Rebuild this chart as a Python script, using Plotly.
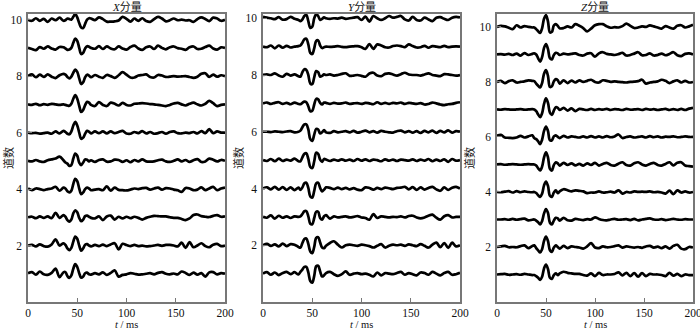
import plotly.graph_objects as go

# Time grid (ms): 4 ms steps, 2 ms steps across the main wavelet
T_GRID = ([0, 4, 8, 12, 16, 20, 24, 28, 32, 36]
          + [38, 40, 42, 44, 46, 48, 50, 52, 54, 56, 58, 60, 62, 64]
          + [68, 72, 76, 80, 84, 88, 92, 96, 100, 104,
             108, 112, 116, 120, 124, 128, 132, 136, 140,
             144, 148, 152, 156, 160, 164, 168, 172, 176,
             180, 184, 188, 192, 196, 200])

TRACE_NUMBERS = [1, 2, 3, 4, 5, 6, 7, 8, 9, 10]

# Trace amplitudes in hundredths of a trace spacing (trace 1 ... trace 10)
X_TRACES = [
    [2,6,-3,8,-2,-4,3,18,-12,5, 6,-8,-15,-6,18,34,24,2,-14,-10,2,4,-2,-3,
     2,-2,5,-4,3,12,-10,-4,-2,2, 0,-3,-2,0,2,-2,3,6,0, -2,1,-2,8,3,-4,4,-3,2, -10,5,6,-2,2,0],
    [0,2,-3,4,-2,-4,4,22,0,8, 2,-10,-16,-8,14,32,24,0,-18,-10,3,5,0,-3,
     2,-2,3,-2,4,8,-14,6,2,-2, 2,-2,0,-3,-2,0,2,-1,2, 2,0,-3,10,-8,12,-6,0,8, -2,-6,3,6,-2,0],
    [0,2,-3,3,-2,3,-3,16,-2,8, 2,-10,-15,-8,14,25,18,-2,-14,-8,4,6,2,-2,
     -4,3,-10,3,6,-8,2,-4,2,-3, 2,-2,-8,-2,2,5,4,3,3, 0,-2,-2,-6,-10,-4,8,10,4, 2,1,5,8,2,3],
    [2,-4,2,0,-4,0,2,8,-6,5, 2,-8,-12,-6,18,36,28,2,-18,-12,0,5,2,-4,
     -2,0,-4,10,-6,5,-3,-4,-5,-2, 2,0,3,4,-2,2,5,-2,3, 2,-2,-4,-10,4,2,-4,-2,6, -4,2,8,-4,2,5],
    [0,-2,3,-2,-4,2,5,8,15,2, -6,-10,-18,-15,8,26,18,-6,-15,-6,5,4,-2,2,
     -4,3,5,-3,-2,4,3,-4,2,-5, 3,-2,5,-2,-3,-2,2,4,-2, -4,0,5,-2,3,-4,2,6,-4, -2,8,4,-2,3,0],
    [0,-2,-1,-4,-2,0,-4,4,-3,6, 2,-4,-6,4,25,38,25,0,-22,-18,-4,6,3,-3,
     4,-2,4,-3,4,-2,2,6,-3,-4, 2,-2,5,-3,2,-4,-2,2,-4, 2,4,-2,-3,0,-2,2,-3,5, -2,12,-2,4,0,0],
    [0,-2,2,-3,1,-2,2,0,-2,0, -2,-4,-5,2,20,33,20,-5,-27,-20,-3,9,6,-2,
     -6,8,-2,-6,6,2,-4,5,-2,-4, 2,3,4,3,1,0,-2,-4,-6, -2,3,5,0,-4,2,6,0,-4, 2,12,4,-6,-2,0],
    [0,6,-4,5,-3,6,-2,-7,3,8, 5,-3,-8,-2,12,23,15,-8,-28,-22,-4,5,2,-4,
     4,-2,-6,4,0,-6,3,14,5,-5, -5,2,4,6,-3,-5,4,2,-3, -2,0,-2,-1,0,-3,-6,-2,8, 10,-3,5,-2,3,0],
    [0,-4,-8,3,-3,5,-2,-6,3,2, -2,-7,-6,0,18,33,25,0,-22,-18,-2,6,4,0,
     -3,6,-4,5,-2,-5,5,-2,-6,3, 8,-2,-7,2,5,-4,8,0,-5, 2,5,-1,-3,-7,2,5,-4,-3, 3,8,-2,-6,2,0],
    [0,-4,5,-4,3,-8,4,-2,7,-4, -2,4,2,0,10,20,8,-12,-28,-30,-15,0,5,4,
     -2,8,2,-7,-7,-6,-3,10,3,-7, 4,-4,5,-5,-8,2,10,4,-6, -2,4,-2,0,-3,-2,-8,2,8, 2,-5,7,4,-4,0],
]

Y_TRACES = [
    [0,5,-4,4,-5,2,6,-2,5,-3, 6,14,24,24,4,-26,-32,-8,26,28,8,-10,-6,2,
     6,-2,-8,-2,8,-4,0,2,-2,0, -4,-10,4,-6,2,0,-2,2,6, -4,2,-2,-6,4,2,-4,6,0, -6,2,6,-4,-2,3],
    [0,5,-2,3,-4,6,-3,4,2,-6, -8,8,22,24,5,-22,-28,-6,26,28,10,-8,-10,-2,
     8,14,2,-8,0,2,0,-2,2,0, -3,-8,-2,4,-8,-2,2,0,2, -2,3,0,-3,4,-2,-8,2,9, -7,8,-9,9,-4,0],
    [0,-3,5,-6,4,-3,2,-4,2,0, 2,10,20,20,2,-24,-26,-4,18,18,-4,-10,2,6,
     -6,2,-2,0,2,-2,0,3,-2,-4, -10,10,-4,2,0,-2,0,-1,2, -2,3,4,-2,-5,-2,4,8,-3, -10,2,6,-2,0,0],
    [0,4,-3,6,-4,5,-5,4,-6,3, -5,4,18,20,2,-28,-32,-8,18,20,2,-10,-4,4,
     2,-2,3,-2,2,-3,1,-4,-6,4, 2,-4,2,-2,3,1,-2,2,3, 6,-3,5,-5,4,-4,2,6,-3, -8,4,-5,3,6,0],
    [0,-3,4,-4,5,-3,2,-2,5,-4, -4,10,22,24,4,-24,-28,-4,26,22,2,-6,4,2,
     -3,2,-2,3,-2,2,-3,4,-2,3, -3,2,0,-4,3,-2,2,-3,2, 0,-2,3,-3,2,-2,4,-4,2, -3,3,-6,4,-2,0],
    [0,0,-1,1,0,-1,1,2,-2,0, 4,16,26,26,8,-26,-32,-10,10,8,-6,-2,6,-2,
     -4,2,-2,0,2,-2,3,-3,0,4, -2,2,-3,3,0,-2,-3,2,4, -2,2,-3,2,-4,3,-2,4,-4, 3,-2,5,-3,2,0],
    [0,3,-2,2,4,-2,2,-3,3,-2, -3,2,6,4,-10,-28,-26,-4,16,14,2,-4,3,2,
     -2,2,-1,0,3,-2,0,1,-2,2, 0,-3,4,-2,2,-2,2,0,3, -2,2,0,-2,1,-4,-2,3,0, -4,-6,-3,-2,2,4],
    [0,2,0,6,-2,-6,4,-2,2,-4, -6,10,20,18,0,-30,-32,-8,14,10,-6,-3,2,0,
     2,-2,0,4,6,-3,-2,0,-3,-6, 5,8,-2,-4,4,6,2,-2,3, 8,2,0,0,-2,2,6,0,-2, -4,3,2,0,-2,0],
    [0,-2,4,-6,4,-4,3,-3,0,2, 4,14,26,28,8,-22,-26,-6,20,22,4,-5,-2,0,
     -1,0,2,-1,-2,0,1,2,-2,-8, 9,-8,8,4,-2,-3,2,4,2, -2,8,2,-3,-2,3,-4,2,0, -2,3,-2,0,1,0],
    [5,2,0,-3,4,-5,-3,5,-2,-6, -10,-4,8,12,-10,-34,-30,0,14,8,-6,-2,3,0,
     -2,0,-1,2,-2,0,2,4,-6,6, -12,8,0,-6,0,8,2,5,8, -4,-8,5,-6,-8,2,-4,-10,2, 4,-2,-6,2,5,3],
]

Z_TRACES = [
    [0,1,2,-1,0,1,-1,2,0,-2, -2,-6,-12,-20,-8,22,36,20,-12,-16,-2,4,-2,4,
     10,6,4,2,2,-2,-4,4,-6,6, -2,0,0,2,8,-3,6,-6,5, -8,5,-6,2,0,0,-2,-6,6, -4,2,-6,0,-2,-2],
    [0,2,4,-1,0,-1,3,6,-4,4, 6,-4,-12,-20,-8,22,38,22,-12,-18,-2,6,0,-6,
     4,-4,2,0,-2,-6,2,14,-2,-4, 2,-1,0,3,6,-2,2,0,-2, 0,-3,2,4,-2,1,-4,2,-6, 4,8,-6,-8,0,-2],
    [0,0,1,-1,2,-1,1,3,-3,-1, 0,-4,-10,-18,-6,22,38,24,-12,-18,-4,6,4,-4,
     6,-3,-4,2,0,-2,1,0,8,2, -2,-3,0,2,-1,0,1,-2,2, -3,0,2,4,0,-1,1,-2,0, 2,0,-1,1,0,0],
    [0,-1,1,3,-2,3,-1,2,0,-1, 0,-4,-12,-18,-6,24,38,22,-14,-18,-2,6,-4,2,
     10,6,2,6,4,2,-4,-2,-2,2, -2,-1,1,-2,6,-6,0,-2,2, 0,1,0,2,-1,0,-2,-6,5, -8,6,-2,2,-2,0],
    [0,1,-1,0,1,0,-1,0,1,0, 0,-4,-14,-22,-8,26,44,26,-16,-22,-2,8,4,-4,
     6,-2,4,-3,2,-4,4,-2,6,-4, 2,6,-2,-4,3,8,-2,-4,4, 8,0,-4,2,6,-2,-4,2,8, -3,6,8,-4,-6,-8],
    [4,8,-2,-3,-4,-2,4,-2,2,6, -4,-8,-16,-26,-10,22,38,22,-12,-12,2,6,0,-4,
     4,-2,2,0,-2,2,-2,3,-2,2, -2,3,-1,2,9,-4,0,2,-2, 0,2,-2,3,-1,2,-2,1,0, 2,-1,0,2,0,0],
    [0,-1,1,0,-1,0,1,-1,0,1, 0,-6,-18,-28,-14,20,40,24,-12,-20,-4,8,6,-2,
     6,-4,4,-6,2,0,-2,2,-2,1, -1,2,-2,1,0,-2,2,-1,0, 1,-2,2,-1,1,-2,0,2,-2, 1,-2,2,-2,3,6],
    [0,4,-4,3,6,-2,0,2,6,4, 3,-6,-14,-20,-4,30,43,22,-18,-16,2,10,6,-6,
     6,-4,5,-2,6,0,4,8,0,-2, 6,4,0,2,0,-1,-2,0,1, 3,8,-6,-2,0,2,8,4,-4, 2,6,-2,4,-2,0],
    [0,1,-1,2,-2,3,-4,5,-2,2, 4,0,-14,-26,-10,24,38,20,-14,-18,-2,6,4,-2,
     3,0,2,4,-2,-4,3,4,-8,4, 8,2,0,-2,1,6,-4,-2,3, 8,-3,-2,4,-4,-2,3,-3,2, 8,-3,-6,2,4,0],
    [0,4,2,-3,-8,6,-2,3,0,-2, -2,-8,-16,-22,-5,30,43,20,-20,-18,5,10,4,-5,
     -4,2,-2,10,4,-4,-16,-6,6,10, 10,2,-3,-1,-2,3,12,4,-4, -2,2,0,6,2,-2,-6,3,-2, -6,4,6,-2,2,8],
]

PANEL_TITLES = ["<i>X</i>分量", "<i>Y</i>分量", "<i>Z</i>分量"]
X_TICKS = [0, 50, 100, 150, 200]
Y_TICKS = [2, 4, 6, 8, 10]
Y_LABEL = "道数"
X_LABEL = "<i>t</i> / ms"

W, H = 700, 330
ML, MR, MT, MB = 28, 7, 14, 28
PW = W - ML - MR
PH = H - MT - MB
panels_px = [(28, 225), (263, 460), (497, 693)]
y_ranges = [[0, 10.2], [0, 10.15], [0, 10.47]]

SERIF = "Liberation Serif, Times New Roman, Noto Sans CJK SC, serif"
TXT = "#111"

fig = go.Figure()
annotations = []
for p, traces in enumerate([X_TRACES, Y_TRACES, Z_TRACES]):
    sfx = "" if p == 0 else str(p + 1)
    for num, vals in zip(TRACE_NUMBERS, traces):
        assert len(vals) == len(T_GRID), (p, num, len(vals))
        fig.add_trace(go.Scatter(
            x=T_GRID, y=[num + v / 100 for v in vals],
            mode="lines", line=dict(color="black", width=2.7, shape="spline", smoothing=1.0),
            xaxis="x" + sfx, yaxis="y" + sfx, showlegend=False, hoverinfo="skip"))
    x0, x1 = panels_px[p]
    dom = [(x0 - ML) / PW, (x1 - ML) / PW]
    axis_common = dict(showline=True, mirror=True, linecolor="#777", linewidth=1.5,
                       ticks="inside", ticklen=4, tickcolor="#777", showgrid=False,
                       zeroline=False, automargin=False, ticklabeloverflow="allow",
                       tickfont=dict(family=SERIF, size=11.5, color=TXT))
    fig.update_layout(**{
        "xaxis" + sfx: dict(domain=dom, range=[0, 200], tickvals=X_TICKS,
                            anchor="y" + sfx, ticklabelstandoff=-1, **axis_common),
        "yaxis" + sfx: dict(domain=[0, 1], range=y_ranges[p], tickvals=Y_TICKS,
                            anchor="x" + sfx, ticklabelstandoff=2, **axis_common),
    })
    cx = ((x0 + x1) / 2 - ML) / PW
    annotations.append(dict(text=PANEL_TITLES[p], xref="paper", yref="paper",
                            x=cx, y=1 + (MT - 7) / PH, xanchor="center", yanchor="middle",
                            showarrow=False, font=dict(family=SERIF, size=11, color=TXT)))
    annotations.append(dict(text=X_LABEL, xref="paper", yref="paper",
                            x=cx, y=-(324.5 - (MT + PH)) / PH, xanchor="center", yanchor="middle",
                            showarrow=False, font=dict(family=SERIF, size=10.5, color=TXT)))
    lx = [8, 238, 469][p]
    annotations.append(dict(text=Y_LABEL, xref="paper", yref="paper",
                            x=(lx - ML) / PW, y=0.5, xanchor="center", yanchor="middle",
                            textangle=-90, showarrow=False,
                            font=dict(family=SERIF, size=11, color=TXT)))

fig.update_layout(template="none", width=W, height=H, margin=dict(l=ML, r=MR, t=MT, b=MB),
                  paper_bgcolor="white", plot_bgcolor="white",
                  annotations=annotations, showlegend=False)
fig.write_html("out.html", config={"displayModeBar": False},
               post_script="document.body.style.margin='0';")
